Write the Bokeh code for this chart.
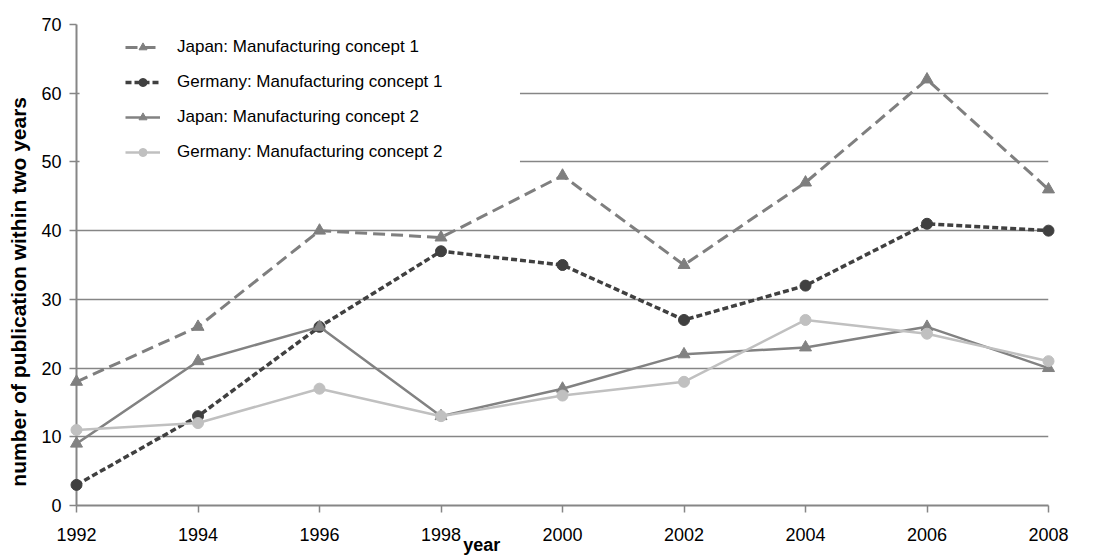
import math
from bokeh.plotting import figure
from bokeh.models import Range1d, FixedTicker, Legend, LegendItem, BoxAnnotation
from bokeh.core.properties import value
from bokeh.embed import file_html
from bokeh.resources import INLINE

# ---- data ----
years = [1992, 1994, 1996, 1998, 2000, 2002, 2004, 2006, 2008]
japan_c1 = [18, 26, 40, 39, 48, 35, 47, 62, 46]
germany_c1 = [3, 13, 26, 37, 35, 27, 32, 41, 40]
japan_c2 = [9, 21, 26, 13, 17, 22, 23, 26, 20]
germany_c2 = [11, 12, 17, 13, 16, 18, 27, 25, 21]
series_labels = [
    "Japan: Manufacturing concept 1",
    "Germany: Manufacturing concept 1",
    "Japan: Manufacturing concept 2",
    "Germany: Manufacturing concept 2",
]
y_ticks = [0, 10, 20, 30, 40, 50, 60, 70]
x_label = "year"
y_label = "number of publication within two years"

FONT = "Liberation Sans"
GRID = "#868686"

p = figure(width=1110, height=556, output_backend="svg", toolbar_location=None,
           x_range=Range1d(years[0], years[-1]), y_range=Range1d(y_ticks[0], y_ticks[-1]),
           min_border_left=76, min_border_right=62, min_border_top=24, min_border_bottom=51)
p.outline_line_color = None
p.background_fill_color = "white"

p.xgrid.visible = False
p.ygrid.grid_line_color = GRID
p.ygrid.grid_line_width = 1.3
p.ygrid.ticker = FixedTicker(ticks=y_ticks)

for ax in (p.xaxis[0], p.yaxis[0]):
    ax.axis_line_color = GRID
    ax.axis_line_width = 2
    ax.major_tick_line_color = GRID
    ax.major_tick_line_width = 1.5
    ax.major_tick_in = 0
    ax.major_tick_out = 7
    ax.minor_tick_line_color = None
    ax.major_label_text_font = FONT
    ax.major_label_text_font_size = "18px"
    ax.major_label_text_color = "black"

p.xaxis.ticker = FixedTicker(ticks=years)
p.xaxis.major_label_standoff = 15
p.yaxis.ticker = FixedTicker(ticks=y_ticks)
p.yaxis.major_label_standoff = 8

# white area behind legend hides gridlines
p.add_layout(BoxAnnotation(left=1992.05, right=1999.3, bottom=48.5, top=69.85,
                           fill_color="white", fill_alpha=1, line_color=None, level="underlay"))

styles = [
    dict(color="#7f7f7f", dash="12 6", width=3, marker="triangle", size=12),
    dict(color="#404040", dash="6 3", width=3.5, marker="circle", size=11),
    dict(color="#828282", dash="solid", width=2.5, marker="triangle", size=12),
    dict(color="#c0c0c0", dash="solid", width=2.5, marker="circle", size=11),
]
items = []
for ys, lab, st in zip([japan_c1, germany_c1, japan_c2, germany_c2], series_labels, styles):
    lr = p.line(years, ys, line_color=st["color"], line_width=st["width"], line_dash=st["dash"])
    sr = p.scatter(years, ys, marker=st["marker"], size=st["size"], fill_color=st["color"],
                   line_color=st["color"], level="overlay")
    items.append(LegendItem(label=lab, renderers=[lr, sr]))

legend = Legend(items=items, location=(49, 343), margin=0, padding=0, spacing=15,
                glyph_width=35, glyph_height=20, label_standoff=17,
                label_text_font=FONT, label_text_font_size="17px", label_text_color="black",
                background_fill_alpha=0, border_line_color=None)
p.add_layout(legend)

# axis titles (drawn as unclipped text glyphs)
p.text(x=[1998.67], y=[-5.8], text=[x_label], text_align="center", text_baseline="middle",
       text_font=value(FONT), text_font_style="bold", text_font_size="18px",
       text_color="black", level="overlay")
p.text(x=[1991.05], y=[31.1], text=[y_label], angle=math.pi / 2,
       text_align="center", text_baseline="middle",
       text_font=value(FONT), text_font_style="bold", text_font_size="21px",
       text_color="black", level="overlay")

open("out.html", "w").write(file_html(p, INLINE))
